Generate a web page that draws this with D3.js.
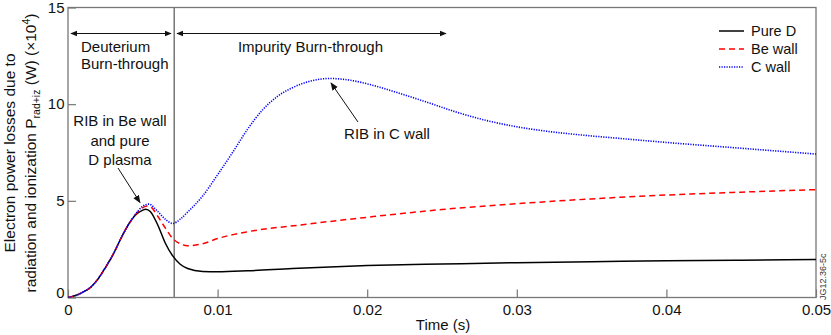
<!DOCTYPE html>
<html>
<head>
<meta charset="utf-8">
<script src="https://cdn.jsdelivr.net/npm/d3@7"></script>
<style>
  html, body { margin: 0; padding: 0; background: #fff; }
  svg { display: block; font-family: "Liberation Sans", Arial, sans-serif; }
</style>
</head>
<body>
<svg id="chart" width="831" height="335"></svg>
<script>
// ---- data (time in s, power in units of 1e4 W) ----
const pureD_t = [0, 0.0005, 0.001, 0.0015, 0.002, 0.0025, 0.003, 0.0035, 0.004, 0.0045, 0.005, 0.0052, 0.0055, 0.006, 0.0065, 0.007, 0.0075, 0.008, 0.009, 0.01, 0.012, 0.015, 0.02, 0.025, 0.03, 0.035, 0.04, 0.045, 0.05];
const pureD_v = [0, 0.1, 0.28, 0.52, 0.95, 1.55, 2.2, 3.0, 3.72, 4.25, 4.52, 4.57, 4.45, 3.75, 2.82, 2.15, 1.72, 1.5, 1.35, 1.33, 1.38, 1.5, 1.65, 1.73, 1.8, 1.85, 1.9, 1.93, 1.97];

const beWall_t = [0, 0.0005, 0.001, 0.0015, 0.002, 0.0025, 0.003, 0.0035, 0.004, 0.0045, 0.005, 0.0053, 0.0055, 0.006, 0.0065, 0.007, 0.0075, 0.008, 0.009, 0.01, 0.012, 0.0155, 0.02, 0.025, 0.03, 0.035, 0.04, 0.045, 0.05];
const beWall_v = [0, 0.1, 0.28, 0.52, 0.95, 1.55, 2.2, 3.0, 3.72, 4.28, 4.65, 4.73, 4.7, 4.2, 3.6, 3.05, 2.78, 2.68, 2.78, 3.05, 3.4, 3.75, 4.15, 4.55, 4.85, 5.1, 5.3, 5.45, 5.58];

const cWall_t = [0, 0.0005, 0.001, 0.0015, 0.002, 0.0025, 0.003, 0.0035, 0.004, 0.0045, 0.005, 0.0054, 0.006, 0.0065, 0.007, 0.0075, 0.008, 0.009, 0.01, 0.011, 0.012, 0.013, 0.014, 0.015, 0.016, 0.0175, 0.019, 0.0205, 0.022, 0.024, 0.026, 0.028, 0.03, 0.032, 0.034, 0.037, 0.04, 0.045, 0.05];
const cWall_v = [0, 0.1, 0.28, 0.52, 0.95, 1.55, 2.2, 3.0, 3.72, 4.3, 4.72, 4.83, 4.45, 4.05, 3.83, 4.05, 4.42, 5.25, 6.35, 7.5, 8.7, 9.7, 10.4, 10.85, 11.15, 11.33, 11.22, 10.95, 10.6, 10.1, 9.58, 9.15, 8.83, 8.6, 8.43, 8.22, 8.02, 7.72, 7.42];

const xTicks = [0, 0.01, 0.02, 0.03, 0.04, 0.05];
const xTickLabels = ["0", "0.01", "0.02", "0.03", "0.04", "0.05"];
const yTicks = [0, 5, 10, 15];
const yTickLabels = ["0", "5", "10", "15"];
const seriesNames = ["Pure D", "Be wall", "C wall"];
const burnThroughTime = 0.0071;

(function () {
// ---- layout ----
const svg = d3.select("#chart");
const pL = 68, pR = 816, pT = 7.5, pB = 297.5;
const x = d3.scaleLinear().domain([0, 0.05]).range([pL, pR]);
const y = d3.scaleLinear().domain([0, 15]).range([pB, pT]);
const frameColor = "#777";

const defs = svg.append("defs");
function marker(id, size) {
  defs.append("marker").attr("id", id)
    .attr("viewBox", "0 0 10 10").attr("refX", 9).attr("refY", 5)
    .attr("markerWidth", size).attr("markerHeight", size)
    .attr("orient", "auto-start-reverse").attr("markerUnits", "userSpaceOnUse")
    .append("path").attr("d", "M0,1 L10,5 L0,9 Z").attr("fill", "#111");
}
marker("ah", 7);
marker("ah2", 8);

// frame
svg.append("rect").attr("x", pL).attr("y", pT).attr("width", pR - pL).attr("height", pB - pT)
  .attr("fill", "none").attr("stroke", frameColor).attr("stroke-width", 1.3);

// ticks (inward)
const xAxis = d3.axisBottom(x).tickValues(xTicks).tickSize(-8).tickFormat((d, i) => xTickLabels[i]).tickPadding(6.5);
const gx = svg.append("g").attr("transform", `translate(0,${pB})`).call(xAxis);
gx.select(".domain").remove();
gx.selectAll(".tick line").attr("stroke", frameColor).attr("stroke-width", 1.2);
gx.selectAll(".tick text").attr("font-size", 15).attr("fill", "#111").attr("font-family", "Liberation Sans, Arial, sans-serif");

const yAxis = d3.axisLeft(y).tickValues(yTicks).tickSize(-8).tickFormat((d, i) => yTickLabels[i]).tickPadding(3.5);
const gy = svg.append("g").attr("transform", `translate(${pL},0)`).call(yAxis);
gy.select(".domain").remove();
gy.selectAll(".tick line").attr("stroke", frameColor).attr("stroke-width", 1.2);
gy.selectAll(".tick text").attr("font-size", 15).attr("fill", "#111").attr("font-family", "Liberation Sans, Arial, sans-serif");
gy.selectAll(".tick").filter(d => d === 0).select("text").attr("dy", "-0.01em");

// burn-through divider
svg.append("line").attr("x1", x(burnThroughTime)).attr("x2", x(burnThroughTime))
  .attr("y1", pT).attr("y2", pB).attr("stroke", frameColor).attr("stroke-width", 1.5);

// curves
const line = d3.line().x(d => x(d[0])).y(d => y(d[1])).curve(d3.curveMonotoneX);
const series = [
  { name: seriesNames[0], t: pureD_t, v: pureD_v, color: "#000", dash: null, w: 1.5 },
  { name: seriesNames[1], t: beWall_t, v: beWall_v, color: "#f00", dash: "6,4", w: 1.5 },
  { name: seriesNames[2], t: cWall_t, v: cWall_v, color: "#00f", dash: "1.2,1.3", w: 1.6 }
];
const clip = defs.append("clipPath").attr("id", "plot");
clip.append("rect").attr("x", pL).attr("y", pT).attr("width", pR - pL).attr("height", pB - pT);
series.forEach(s => {
  svg.append("path").datum(s.t.map((t, i) => [t, s.v[i]]))
    .attr("d", line).attr("fill", "none").attr("stroke", s.color)
    .attr("stroke-width", s.w).attr("stroke-dasharray", s.dash)
    .attr("clip-path", "url(#plot)");
});

// legend
const lg = svg.append("g");
series.forEach((s, i) => {
  const yy = 31 + i * 18;
  lg.append("line").attr("x1", 719).attr("x2", 744).attr("y1", yy).attr("y2", yy)
    .attr("stroke", s.color).attr("stroke-width", s.w).attr("stroke-dasharray", s.dash);
  lg.append("text").attr("x", 751).attr("y", yy + 5).attr("font-size", 14.5).attr("fill", "#111").text(s.name);
});

// phase arrows
function dblArrow(x1, x2, yy) {
  svg.append("line").attr("x1", x1).attr("x2", x2).attr("y1", yy).attr("y2", yy)
    .attr("stroke", "#111").attr("stroke-width", 1)
    .attr("marker-start", "url(#ah)").attr("marker-end", "url(#ah)");
}
dblArrow(71, 171, 33.5);
dblArrow(177, 446, 33.5);

const txt = (tx, ty, s, anchor) => svg.append("text").attr("x", tx).attr("y", ty)
  .attr("font-size", 15).attr("fill", "#111").attr("text-anchor", anchor || "start").text(s);
txt(81, 51.5, "Deuterium");
txt(81, 69, "Burn-through");
txt(310.5, 51.5, "Impurity Burn-through", "middle");

// annotations
txt(120, 126, "RIB in Be wall", "middle");
txt(120, 146, "and pure", "middle");
txt(120, 165, "D plasma", "middle");
svg.append("line").attr("x1", 118).attr("y1", 168).attr("x2", 140).attr("y2", 202.5)
  .attr("stroke", "#111").attr("stroke-width", 1).attr("marker-end", "url(#ah2)");

txt(387, 139, "RIB in C wall", "middle");
svg.append("line").attr("x1", 358).attr("y1", 122).attr("x2", 331).attr("y2", 83)
  .attr("stroke", "#111").attr("stroke-width", 1).attr("marker-end", "url(#ah2)");

// axis titles
svg.append("text").attr("x", 443).attr("y", 330).attr("font-size", 15).attr("fill", "#111")
  .attr("text-anchor", "middle").text("Time (s)");

const yl = svg.append("text").attr("transform", "translate(15,153) rotate(-90)")
  .attr("font-size", 15.5).attr("fill", "#111").attr("text-anchor", "middle");
yl.append("tspan").attr("x", 0).attr("dy", 0).text("Electron power losses due to");
const t2 = svg.append("text").attr("transform", "translate(35.5,153) rotate(-90)")
  .attr("font-size", 15.5).attr("fill", "#111").attr("text-anchor", "middle");
t2.append("tspan").text("radiation and ionization P");
t2.append("tspan").attr("font-size", 10.5).attr("dy", 4).text("rad+iz");
t2.append("tspan").attr("dy", -4).text(" (W) (×10");
t2.append("tspan").attr("font-size", 10.5).attr("dy", -6).text("4");
t2.append("tspan").attr("dy", 6).text(")");

// figure id
svg.append("text").attr("transform", "translate(826,300) rotate(-90)")
  .attr("font-size", 9).attr("fill", "#333").text("JG12.36-5c");
})();
</script>
</body>
</html>
